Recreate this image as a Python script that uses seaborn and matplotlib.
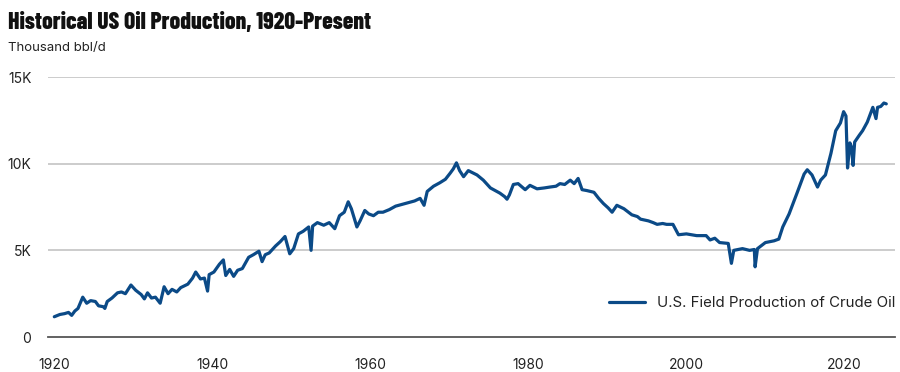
import numpy as np
import pandas as pd
import matplotlib
matplotlib.use("Agg")
import matplotlib.pyplot as plt
import seaborn as sns

# Readings of US field production of crude oil (thousand bbl/d)
years = [
    1920.0, 1920.7, 1921.3, 1921.8, 1922.2, 1922.6, 1923.0, 1923.6, 1924.1, 1924.6,
    1925.2, 1925.6, 1926.2, 1926.4, 1926.7, 1927.3, 1928.0, 1928.5, 1929.0, 1929.7,
    1930.3, 1931.0, 1931.4, 1931.8, 1932.3, 1932.8, 1933.4, 1933.9, 1934.4, 1934.9,
    1935.5, 1936.0, 1936.9, 1937.5, 1937.9, 1938.5, 1939.0, 1939.4, 1939.6, 1940.2,
    1940.9, 1941.4, 1941.7, 1942.2, 1942.7, 1943.2, 1943.8, 1944.6, 1945.2, 1945.9,
    1946.3, 1946.7, 1947.2, 1948.0, 1948.6, 1949.2, 1949.8, 1950.3, 1950.9, 1951.5,
    1952.2, 1952.5, 1952.7, 1953.3, 1954.1, 1954.8, 1955.5, 1956.1, 1956.7, 1957.2,
    1957.6, 1958.3, 1958.7, 1959.3, 1959.8, 1960.4, 1961.0, 1961.6, 1962.4, 1963.2,
    1964.0, 1964.8, 1965.6, 1966.3, 1966.8, 1967.2, 1968.0, 1968.8, 1969.5, 1970.1,
    1970.5, 1970.9, 1971.3, 1971.8, 1972.4, 1973.5, 1974.3, 1975.2, 1976.4, 1977.0,
    1977.3, 1977.6, 1978.1, 1978.7, 1979.6, 1980.2, 1981.1, 1982.0, 1982.7, 1983.5,
    1984.0, 1984.6, 1985.3, 1985.8, 1986.3, 1986.8, 1987.4, 1988.3, 1988.9, 1989.5,
    1990.1, 1990.6, 1991.2, 1992.1, 1993.1, 1993.8, 1994.2, 1995.2, 1995.8, 1996.3,
    1997.0, 1997.5, 1998.3, 1999.0, 2000.0, 2001.3, 2002.5, 2003.0, 2003.6, 2004.2,
    2005.3, 2005.7, 2006.0, 2007.1, 2008.0, 2008.6, 2008.7, 2009.0, 2010.0, 2011.1,
    2011.7, 2012.2, 2013.0, 2014.0, 2014.9, 2015.3, 2015.9, 2016.6, 2017.0, 2017.6,
    2018.3, 2018.9, 2019.5, 2019.9, 2020.2, 2020.4, 2020.7, 2020.9, 2021.1, 2021.3,
    2021.9, 2022.3, 2022.9, 2023.6, 2024.0, 2024.2, 2024.6, 2025.0, 2025.3,
]
production = [
    1170, 1300, 1350, 1420, 1250, 1500, 1650, 2300, 1950, 2100,
    2050, 1800, 1750, 1650, 2050, 2250, 2550, 2600, 2500, 3000,
    2700, 2450, 2200, 2550, 2250, 2300, 1950, 2900, 2500, 2750,
    2600, 2850, 3050, 3400, 3750, 3350, 3400, 2650, 3600, 3750,
    4200, 4450, 3550, 3900, 3500, 3850, 3950, 4600, 4750, 4950,
    4350, 4750, 4850, 5250, 5500, 5800, 4800, 5100, 5950, 6100,
    6350, 5000, 6400, 6600, 6450, 6600, 6250, 7000, 7200, 7800,
    7400, 6350, 6700, 7300, 7100, 7000, 7200, 7200, 7350, 7550,
    7650, 7750, 7850, 8000, 7600, 8400, 8700, 8900, 9100, 9450,
    9700, 10050, 9600, 9250, 9600, 9350, 9050, 8600, 8300, 8100,
    7950, 8200, 8800, 8850, 8500, 8750, 8550, 8600, 8650, 8700,
    8850, 8800, 9050, 8850, 9150, 8500, 8450, 8350, 8000, 7700,
    7450, 7200, 7600, 7400, 7050, 6950, 6800, 6700, 6600, 6500,
    6550, 6500, 6500, 5900, 5950, 5850, 5850, 5600, 5700, 5450,
    5400, 4250, 5000, 5100, 5000, 5050, 4050, 5100, 5450, 5550,
    5650, 6350, 7100, 8300, 9400, 9650, 9350, 8650, 9050, 9350,
    10600, 11900, 12350, 13000, 12750, 9750, 11200, 10950, 9900, 11250,
    11650, 11900, 12400, 13250, 12600, 13250, 13300, 13500, 13450,
]

x_ticks = [1920, 1940, 1960, 1980, 2000, 2020]
y_ticks = [0, 5000, 10000, 15000]
y_labels = ["0", "5K", "10K", "15K"]
series_name = "U.S. Field Production of Crude Oil"

df = pd.DataFrame({"year": years, "production": production})

sns.set_style("white")
plt.rcParams["font.family"] = ["Inter", "DejaVu Sans"]

fig = plt.figure(figsize=(9, 3.72), dpi=100)
ax = fig.add_axes([0.0533, 0.094, 0.9411, 0.699])

sns.lineplot(data=df, x="year", y="production", ax=ax, color="#0b4a87",
             linewidth=2.3, label=series_name)

ax.set_xlim(1919.2, 2026.4)
ax.set_ylim(0, 15000)
ax.set_xticks(x_ticks)
ax.set_yticks(y_ticks)
ax.set_yticklabels(y_labels)
ax.set_xlabel("")
ax.set_ylabel("")

for yv in y_ticks[1:]:
    ax.axhline(yv, color="#cccccc", linewidth=1.4, zorder=0)

for side in ["top", "right", "left"]:
    ax.spines[side].set_visible(False)
ax.spines["bottom"].set_color("#555555")
ax.spines["bottom"].set_linewidth(1.3)

ax.tick_params(axis="x", length=4, width=1, color="#555555", pad=11,
               labelsize=10, labelcolor="#222222")
ax.tick_params(axis="y", length=0, pad=12, labelsize=10, labelcolor="#222222")

leg = ax.legend(loc="center right", bbox_to_anchor=(1.0, 0.13), frameon=False,
                fontsize=10.8, handlelength=2.4, handletextpad=0.8,
                borderaxespad=0, borderpad=0)
for t in leg.get_texts():
    t.set_color("#222222")

fig.text(0.009, 0.938, "Historical US Oil Production, 1920-Present",
         family=["Barlow Condensed", "Liberation Sans Narrow", "DejaVu Sans"],
         fontweight=800, fontsize=17, va="center", ha="left", color="#111111")
fig.text(0.009, 0.872, "Thousand bbl/d", fontsize=9.5, va="center",
         ha="left", color="#222222")

fig.savefig("out.png", dpi=100)
